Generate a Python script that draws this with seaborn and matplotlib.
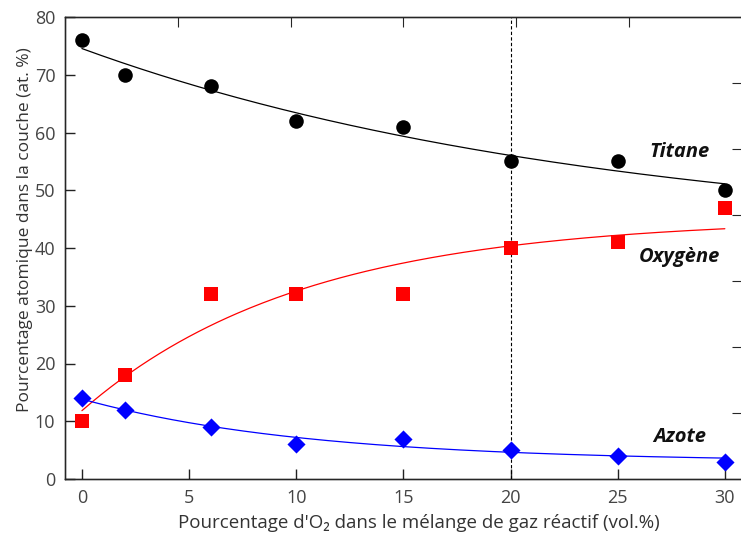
import numpy as np
import pandas as pd
import seaborn as sns
import matplotlib.pyplot as plt

o2_pct = [0, 2, 6, 10, 15, 20, 25, 30]
titane = [76, 70, 68, 62, 61, 55, 55, 50]
oxygene = [10, 18, 32, 32, 32, 40, 41, 47]
azote = [14, 12, 9, 6, 7, 5, 4, 3]

series_names = ["Titane", "Oxygène", "Azote"]
label_pos = [(27.9, 56.6), (27.9, 38.4), (27.9, 7.3)]

sns.set_style("ticks")
plt.rcParams["font.family"] = ["Open Sans", "DejaVu Sans"]


def exp_fit(x, y):
    # y = a + b * exp(-x / tau), tau by grid search, a and b by least squares
    x = np.asarray(x, float)
    y = np.asarray(y, float)
    best = None
    for tau in np.linspace(1, 300, 3000):
        A = np.column_stack([np.ones_like(x), np.exp(-x / tau)])
        coef, *_ = np.linalg.lstsq(A, y, rcond=None)
        sse = np.sum((A @ coef - y) ** 2)
        if best is None or sse < best[0]:
            best = (sse, coef, tau)
    _, (a, b), tau = best
    xs = np.linspace(x.min(), x.max(), 200)
    return xs, a + b * np.exp(-xs / tau)


df = pd.DataFrame({"x": o2_pct, "Titane": titane, "Oxygène": oxygene, "Azote": azote})

fig = plt.figure(figsize=(7.41, 5.34), dpi=100)
ax = fig.add_axes([65 / 741, 1 - 479 / 534, 677 / 741, 462 / 534])

styles = {"Titane": ("black", "o", 110), "Oxygène": ("red", "s", 100), "Azote": ("blue", "D", 85)}
for name in series_names:
    color, marker, size = styles[name]
    xs, ys = exp_fit(df["x"], df[name])
    sns.lineplot(x=xs, y=ys, color=color, linewidth=0.9, ax=ax, zorder=2)
    sns.scatterplot(x="x", y=name, data=df, color=color, marker=marker, s=size,
                    edgecolor=color, linewidth=0, ax=ax, zorder=3)

ax.axvline(20, color="black", linestyle=(0, (3, 2)), linewidth=0.8, zorder=1)

for name, (tx, ty) in zip(series_names, label_pos):
    ax.text(tx, ty, name, fontsize=14.5, fontweight="bold", fontstyle="italic",
            ha="center", va="center", color="#111111")

ax.set_xlim(-0.79, 30.8)
ax.set_ylim(0, 80)
ax.set_xticks(range(0, 31, 5))
ax.set_yticks(range(0, 81, 10))
ax.tick_params(direction="in", length=7, width=1, colors="#222222",
               labelcolor="#444444", labelsize=13, pad=7)
ax.set_xlabel("Pourcentage d'O₂ dans le mélange de gaz réactif (vol.%)",
              fontsize=13.5, color="#333333")
ax.set_ylabel("Pourcentage atomique dans la couche (at. %)",
              fontsize=12.5, color="#333333")
ax.xaxis.set_label_coords(0.523, -0.075)
ax.yaxis.set_label_coords(-0.048, 0.54)
for sp in ax.spines.values():
    sp.set_linewidth(1)
    sp.set_color("black")

# unlabelled ticks on the top and right frame
top = ax.twiny()
top.set_xlim(0, 6)
top.set_xticks(range(1, 6))
top.tick_params(direction="in", length=7, labeltop=False)
right = ax.twinx()
right.set_ylim(0, 7)
right.set_yticks(range(1, 7))
right.tick_params(direction="in", length=7, labelright=False)

fig.savefig("out.png", dpi=100)
